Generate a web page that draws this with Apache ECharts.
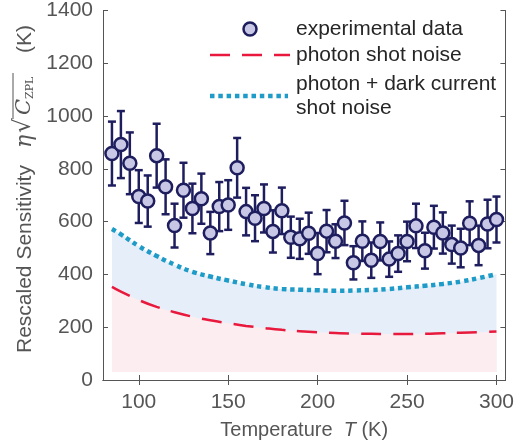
<!DOCTYPE html>
<html>
<head>
<meta charset="utf-8">
<script src="https://cdn.jsdelivr.net/npm/echarts@6/dist/echarts.min.js"></script>
<style>
  html, body { margin: 0; padding: 0; background: #fff; }
  #main { width: 517px; height: 448px; }
</style>
</head>
<body>
<div id="main"></div>
<script>
// measured points (T in K)
var temps = [85, 90, 95, 100, 105, 110, 115, 120, 125, 130, 135, 140, 145, 150, 155,
  160, 165, 170, 175, 180, 185, 190, 195, 200, 205, 210, 215, 220, 225, 230,
  235, 240, 245, 250, 255, 260, 265, 270, 275, 280, 285, 290, 295, 300]
var sensitivity = [858, 892, 821, 695, 678, 850, 732, 585, 719, 650, 687, 557, 657, 663, 804,
  638, 613, 650, 563, 641, 541, 535, 556, 479, 564, 526, 595, 444, 526, 454,
  525, 458, 479, 525, 584, 490, 579, 557, 513, 500, 594, 510, 591, 608]
var errors = [121, 127, 117, 100, 97, 121, 104, 83, 104, 94, 95, 80, 93, 94, 113,
  90, 87, 91, 80, 88, 78, 76, 78, 78, 80, 64, 84, 63, 75, 67,
  72, 67, 69, 75, 84, 68, 81, 78, 72, 73, 83, 75, 92, 87]

// model curves
var curveT = [85, 90, 100, 110, 120, 130, 140, 150, 160, 170, 180, 190, 200,
  210, 220, 230, 240, 250, 260, 270, 280, 290, 300]
var photonNoise = [353, 335, 303, 277, 257, 240, 226, 215, 205, 197, 190, 185, 181,
  178, 176, 175, 174, 174, 175, 177, 179, 181, 184]
var darkNoise = [572, 552, 507, 470, 437, 410, 392, 377, 363, 352, 345, 342, 340,
  338, 339, 341, 345, 351, 357, 364, 373, 386, 401]
var fillBase = 30

var xTicks = [100, 150, 200, 250, 300]

var navy = '#1e1d5e'
var dotFill = '#c8c8e6'
var red = '#e8193c'
var blue = '#1f9bc8'
var axisGray = '#555555'
var font = 'Liberation Sans'

var myChart = echarts.init(document.getElementById('main'))

var pts = temps.map(function (t, i) { return [t, sensitivity[i]] })
var bars = temps.map(function (t, i) { return [t, sensitivity[i] - errors[i], sensitivity[i] + errors[i]] })

var option = {
  animation: false,
  grid: { left: 103, top: 5, right: 9, bottom: 68 },
  xAxis: [
    {
      type: 'value', min: 80, max: 305, position: 'bottom',
      axisLine: { show: true, lineStyle: { color: axisGray, width: 1 } },
      axisTick: { show: true, inside: true, length: 5, customValues: xTicks, lineStyle: { color: axisGray } },
      axisLabel: { customValues: xTicks, fontSize: 21, color: axisGray, fontFamily: font, margin: 12 },
      splitLine: { show: false },
      name: '{t|Temperature  }{i|T}{t| (K)}',
      nameLocation: 'middle',
      nameGap: 40,
      nameTextStyle: {
        rich: {
          t: { fontSize: 20, color: axisGray, fontFamily: font },
          i: { fontSize: 20, color: axisGray, fontFamily: font, fontStyle: 'italic' }
        }
      }
    },
    {
      type: 'value', min: 80, max: 305, position: 'top',
      axisLine: { show: true, lineStyle: { color: axisGray, width: 1 } },
      axisTick: { show: true, inside: true, length: 5, customValues: xTicks, lineStyle: { color: axisGray } },
      axisLabel: { show: false },
      splitLine: { show: false }
    }
  ],
  yAxis: [
    {
      type: 'value', min: 0, max: 1400, interval: 200, position: 'left',
      axisLine: { show: true, lineStyle: { color: axisGray, width: 1 } },
      axisTick: { show: true, inside: true, length: 5, lineStyle: { color: axisGray } },
      axisLabel: { fontSize: 21, color: axisGray, fontFamily: font, margin: 10, formatter: function (v) { return String(v) } },
      splitLine: { show: false }
    },
    {
      type: 'value', min: 0, max: 1400, interval: 200, position: 'right',
      axisLine: { show: true, lineStyle: { color: axisGray, width: 1 } },
      axisTick: { show: true, inside: true, length: 5, lineStyle: { color: axisGray } },
      axisLabel: { show: false },
      splitLine: { show: false }
    }
  ],
  series: [
    {
      name: 'photon + dark current shot noise',
      type: 'line',
      data: curveT.map(function (t, i) { return [t, darkNoise[i]] }),
      smooth: true,
      symbol: 'none',
      lineStyle: { color: blue, width: 4.5, type: [4.5, 3.8], cap: 'butt' },
      areaStyle: { color: '#e6eff9', opacity: 1, origin: fillBase },
      z: 1
    },
    {
      name: 'photon shot noise',
      type: 'line',
      data: curveT.map(function (t, i) { return [t, photonNoise[i]] }),
      smooth: true,
      symbol: 'none',
      lineStyle: { color: red, width: 2.5, type: [20, 12] },
      areaStyle: { color: '#fcedf1', opacity: 1, origin: fillBase },
      z: 2
    },
    {
      type: 'custom',
      name: 'error',
      data: bars,
      encode: { x: 0, y: [1, 2] },
      renderItem: function (params, api) {
        var x = api.value(0)
        var top = api.coord([x, api.value(2)])
        var bot = api.coord([x, api.value(1)])
        var c = 4
        var st = { stroke: navy, lineWidth: 2.5 }
        return {
          type: 'group',
          children: [
            { type: 'line', shape: { x1: top[0], y1: top[1], x2: bot[0], y2: bot[1] }, style: st },
            { type: 'line', shape: { x1: top[0] - c, y1: top[1], x2: top[0] + c, y2: top[1] }, style: st },
            { type: 'line', shape: { x1: bot[0] - c, y1: bot[1], x2: bot[0] + c, y2: bot[1] }, style: st }
          ]
        }
      },
      z: 3
    },
    {
      name: 'experimental data',
      type: 'scatter',
      data: pts,
      symbol: 'circle',
      symbolSize: 13,
      itemStyle: { color: dotFill, borderColor: navy, borderWidth: 2.5, opacity: 1 },
      z: 4
    }
  ],
  graphic: [
    // legend
    { type: 'circle', shape: { cx: 250, cy: 29, r: 6.5 }, style: { fill: dotFill, stroke: navy, lineWidth: 2.5 }, z: 10 },
    { type: 'line', shape: { x1: 210, y1: 55, x2: 290, y2: 55 }, style: { stroke: red, lineWidth: 2.5, lineDash: [20, 12] }, z: 10 },
    { type: 'line', shape: { x1: 210, y1: 96, x2: 288, y2: 96 }, style: { stroke: blue, lineWidth: 4.5, lineDash: [4.5, 3.8] }, z: 10 },
    { type: 'text', x: 296, y: 29, style: { text: 'experimental data', fontSize: 21, fontFamily: font, fill: '#262626', verticalAlign: 'middle' }, z: 10 },
    { type: 'text', x: 296, y: 55, style: { text: 'photon shot noise', fontSize: 21, fontFamily: font, fill: '#262626', verticalAlign: 'middle' }, z: 10 },
    { type: 'text', x: 296, y: 84, style: { text: 'photon + dark current', fontSize: 21, fontFamily: font, fill: '#262626', verticalAlign: 'middle' }, z: 10 },
    { type: 'text', x: 296, y: 108, style: { text: 'shot noise', fontSize: 21, fontFamily: font, fill: '#262626', verticalAlign: 'middle' }, z: 10 },
    // y axis title, rotated
    {
      type: 'group', x: 25, y: 353, rotation: Math.PI / 2,
      children: [
        { type: 'text', x: 0, y: 0, style: { text: 'Rescaled Sensitivity', fontSize: 21, fontFamily: font, fill: axisGray, verticalAlign: 'middle' } },
        { type: 'text', x: 205, y: 0, style: { text: 'η', fontSize: 22, fontFamily: 'DejaVu Serif', fontStyle: 'italic', fill: axisGray, verticalAlign: 'middle' } },
        { type: 'text', x: 220, y: -1, style: { text: '√', fontSize: 23, fontFamily: 'DejaVu Serif', fill: axisGray, verticalAlign: 'middle' } },
        { type: 'line', shape: { x1: 234, y1: -12, x2: 280, y2: -12 }, style: { stroke: axisGray, lineWidth: 1 } },
        { type: 'text', x: 238, y: 0, style: { text: 'C', fontSize: 21, fontFamily: 'DejaVu Serif', fontStyle: 'italic', fill: axisGray, verticalAlign: 'middle' } },
        { type: 'text', x: 254, y: 5, style: { text: 'ZPL', fontSize: 11, fontFamily: 'DejaVu Serif', fill: axisGray, verticalAlign: 'middle' } },
        { type: 'text', x: 300, y: 0, style: { text: '(K)', fontSize: 21, fontFamily: font, fill: axisGray, verticalAlign: 'middle' } }
      ]
    }
  ]
}

myChart.setOption(option)
</script>
</body>
</html>
